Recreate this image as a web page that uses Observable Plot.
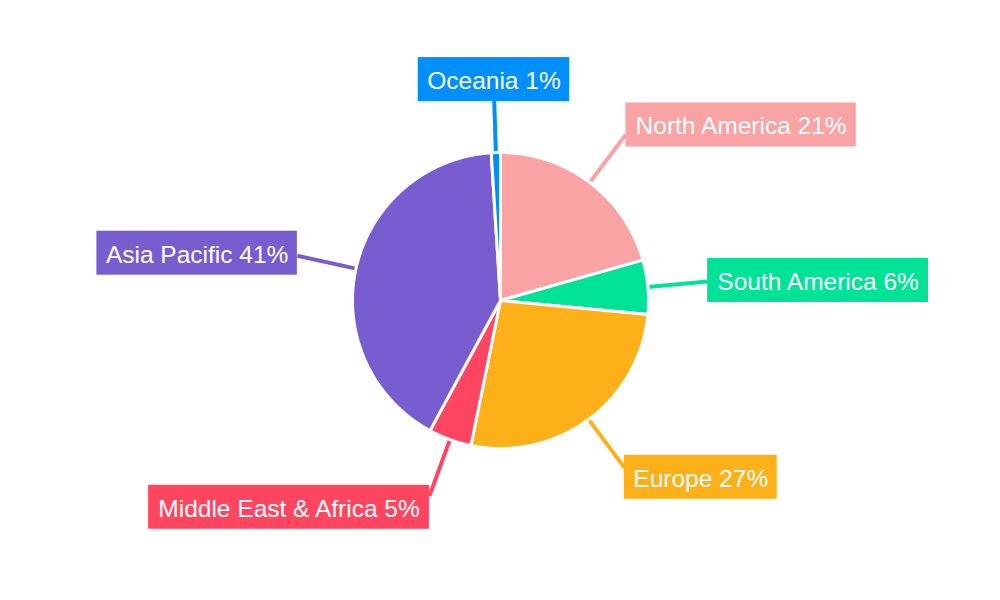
<!DOCTYPE html>
<html>
<head>
<meta charset="utf-8">
<script src="https://cdn.jsdelivr.net/npm/d3@7"></script>
<script src="https://cdn.jsdelivr.net/npm/@observablehq/plot@0.6"></script>
<style>
  html, body { margin: 0; padding: 0; background: #fff; }
  #chart { width: 1000px; height: 600px; }
</style>
</head>
<body>
<div id="chart"></div>
<script>
// ---- data ----
const regions = ["North America", "South America", "Europe", "Middle East & Africa", "Asia Pacific", "Oceania"];
const shares = [20.6, 5.9, 26.7, 4.7, 41.1, 1.0];
const palette = ["#f9a3a4", "#00e396", "#feb019", "#ff4560", "#775dd0", "#008ffb"];

// ---- layout constants ----
const W = 1000, H = 600;
const R = 148, R2 = 208;
const FSIZE = 24.5;
const FONT = `${FSIZE}px 'Liberation Sans', Arial, sans-serif`;
const PAD = 9, BOXH = 44;

const pie = d3.pie().sort(null).value(d => d)(shares);

// slice polygons
const slicePts = [];
pie.forEach((p, i) => {
  const reg = regions[i];
  slicePts.push({region: reg, x: 0, y: 0});
  const n = Math.max(2, Math.ceil((p.endAngle - p.startAngle) / 0.004));
  for (let k = 0; k <= n; k++) {
    const a = p.startAngle + (p.endAngle - p.startAngle) * k / n;
    slicePts.push({region: reg, x: R * Math.sin(a), y: R * Math.cos(a)});
  }
  slicePts.push({region: reg, x: 0, y: 0});
});

// label geometry
const ctx = document.createElement("canvas").getContext("2d");
ctx.font = FONT;
const labels = pie.map((p, i) => {
  const a = (p.startAngle + p.endAngle) / 2;
  const s = Math.sin(a), c = Math.cos(a);
  const text = `${regions[i]} ${Math.round(shares[i])}%`;
  const w = ctx.measureText(text).width + 2 * PAD;
  const ax = R2 * s, ay = R2 * c;
  let x1, x2, cy;
  if (Math.abs(s) < 0.3) {
    x1 = ax - w / 2; x2 = ax + w / 2;
    cy = ay + Math.sign(c) * (BOXH / 2 - 9);
  } else if (s > 0) {
    x1 = ax; x2 = ax + w; cy = ay + 12 * c;
  } else {
    x1 = ax - w; x2 = ax; cy = ay + 12 * c;
  }
  return {
    region: regions[i], text,
    lx1: R * s, ly1: R * c, lx2: ax, ly2: ay,
    x1, x2, y1: cy - BOXH / 2, y2: cy + BOXH / 2,
    cx: (x1 + x2) / 2, cy
  };
});

const chart = Plot.plot({
  width: W,
  height: H,
  margin: 0,
  x: {domain: [-W / 2, W / 2], axis: null},
  y: {domain: [-H / 2, H / 2], axis: null},
  color: {domain: regions, range: palette},
  style: {background: "#fff"},
  marks: [
    Plot.link(labels, {x1: "lx1", y1: "ly1", x2: "lx2", y2: "ly2", stroke: "region", strokeWidth: 4}),
    Plot.line(slicePts, {x: "x", y: "y", z: "region", fill: "region", stroke: "#fff", strokeWidth: 3, strokeLinejoin: "round"}),
    Plot.rect(labels, {x1: "x1", x2: "x2", y1: "y1", y2: "y2", fill: "region"}),
    Plot.text(labels, {x: "cx", y: "cy", dy: 1.5, text: "text", fill: "#fff", fontSize: FSIZE, fontFamily: "'Liberation Sans', Arial, sans-serif", textAnchor: "middle"})
  ]
});
document.getElementById("chart").appendChild(chart);
</script>
</body>
</html>
